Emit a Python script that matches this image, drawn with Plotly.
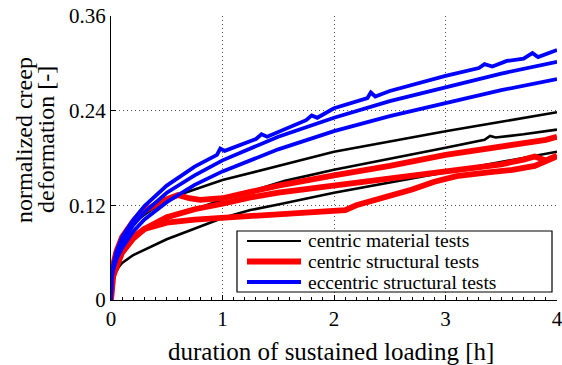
import plotly.graph_objects as go

# ---------------- data ----------------
# centric material tests (black)
black_a_t = [0, 0.005, 0.03, 0.1, 0.2, 0.5, 1.0, 1.25, 1.5, 2.0, 2.5, 3.0, 3.5, 4.0]
black_a_y = [0, 0.03, 0.05, 0.075, 0.098, 0.128, 0.152, 0.161, 0.170, 0.188, 0.201, 0.214, 0.226, 0.238]
black_b_t = [0, 0.005, 0.03, 0.1, 0.25, 0.5, 1.0, 1.25, 1.56, 2.0, 2.44, 3.0, 3.35, 3.4, 3.45, 3.7, 4.0]
black_b_y = [0, 0.025, 0.045, 0.065, 0.085, 0.103, 0.127, 0.138, 0.151, 0.165, 0.177, 0.193, 0.203, 0.208, 0.206, 0.210, 0.216]
black_c_t = [0, 0.005, 0.03, 0.07, 0.1, 0.2, 0.5, 1.0, 1.25, 1.5, 2.0, 2.5, 3.0, 3.5, 4.0]
black_c_y = [0, 0.02, 0.032, 0.042, 0.047, 0.057, 0.077, 0.104, 0.114, 0.121, 0.136, 0.149, 0.162, 0.175, 0.188]

# centric structural tests (red)
red_a_t = [0, 0.005, 0.02, 0.05, 0.1, 0.2, 0.3, 0.45, 0.6, 0.7, 0.8, 1.0, 1.25, 1.5, 2.0, 2.5, 3.0, 3.5, 3.9, 4.0]
red_a_y = [0, 0.035, 0.045, 0.062, 0.08, 0.1, 0.113, 0.125, 0.133, 0.129, 0.127, 0.129, 0.137, 0.145, 0.158, 0.170, 0.184, 0.194, 0.203, 0.207]
red_b_t = [0, 0.005, 0.02, 0.05, 0.1, 0.2, 0.3, 0.5, 0.75, 1.0, 1.25, 1.5, 2.0, 2.5, 3.0, 3.3, 3.5, 3.7, 3.8, 3.9, 4.0]
red_b_y = [0, 0.025, 0.033, 0.045, 0.06, 0.078, 0.09, 0.105, 0.115, 0.122, 0.130, 0.136, 0.145, 0.155, 0.163, 0.168, 0.172, 0.178, 0.182, 0.177, 0.183]
red_c_t = [0, 0.005, 0.02, 0.1, 0.2, 0.3, 0.5, 0.75, 1.0, 1.5, 2.0, 2.1, 2.2, 2.3, 2.5, 2.7, 2.9, 3.1, 3.4, 3.6, 3.8, 3.95, 4.0]
red_c_y = [0, 0.02, 0.03, 0.062, 0.08, 0.09, 0.098, 0.102, 0.104, 0.108, 0.112, 0.114, 0.120, 0.124, 0.132, 0.140, 0.150, 0.157, 0.162, 0.165, 0.170, 0.178, 0.182]

# eccentric structural tests (blue)
blue_a_t = [0, 0.005, 0.02, 0.05, 0.1, 0.2, 0.3, 0.5, 0.75, 0.95, 0.98, 1.02, 1.3, 1.35, 1.4, 1.75, 1.8, 1.85, 2.0, 2.3, 2.33, 2.37, 2.5, 3.0, 3.3, 3.35, 3.42, 3.55, 3.7, 3.78, 3.83, 4.0]
blue_a_y = [0, 0.03, 0.045, 0.062, 0.08, 0.102, 0.119, 0.145, 0.169, 0.184, 0.192, 0.189, 0.204, 0.21, 0.207, 0.228, 0.234, 0.231, 0.243, 0.256, 0.263, 0.258, 0.265, 0.284, 0.294, 0.299, 0.296, 0.303, 0.306, 0.313, 0.308, 0.317]
blue_b_t = [0, 0.005, 0.02, 0.05, 0.1, 0.2, 0.3, 0.5, 0.75, 1.0, 1.5, 2.0, 2.5, 3.0, 3.5, 4.0]
blue_b_y = [0, 0.028, 0.042, 0.058, 0.073, 0.095, 0.111, 0.136, 0.158, 0.177, 0.207, 0.231, 0.252, 0.270, 0.287, 0.302]
blue_c_t = [0, 0.005, 0.02, 0.05, 0.1, 0.2, 0.3, 0.5, 0.75, 1.0, 1.5, 2.0, 2.5, 3.0, 3.5, 4.0]
blue_c_y = [0, 0.025, 0.038, 0.052, 0.066, 0.087, 0.102, 0.124, 0.146, 0.163, 0.191, 0.214, 0.233, 0.250, 0.266, 0.280]

x_ticks = [0, 1, 2, 3, 4]
y_ticks = [0, 0.12, 0.24, 0.36]
y_tick_labels = ["0", "0.12", "0.24", "0.36"]

legend_names = ["centric material tests", "centric structural tests", "eccentric structural tests"]

FONT = "Liberation Serif, Times New Roman, DejaVu Serif, serif"

fig = go.Figure()

groups = [
    (legend_names[0], "black", 2.6, [(black_a_t, black_a_y), (black_b_t, black_b_y), (black_c_t, black_c_y)]),
    (legend_names[1], "#ff0000", 5.8, [(red_a_t, red_a_y), (red_b_t, red_b_y), (red_c_t, red_c_y)]),
    (legend_names[2], "#0000ff", 3.8, [(blue_a_t, blue_a_y), (blue_b_t, blue_b_y), (blue_c_t, blue_c_y)]),
]
for name, color, width, curves in groups:
    for t, y in curves:
        fig.add_trace(go.Scatter(
            x=t, y=y, mode="lines", name=name,
            line=dict(color=color, width=width),
            showlegend=False, legendgroup=name,
        ))

# legend box drawn in paper coordinates (plot area 446 x 284 px)
PW, PH = 446.0, 284.0
def px(xp):
    return (xp - 111) / PW
def py(yp):
    return (300 - yp) / PH

fig.add_shape(type="rect", xref="paper", yref="paper",
              x0=px(237), x1=px(552), y0=py(292), y1=py(231),
              line=dict(color="black", width=1.2), fillcolor="white", layer="above")
row_y = [241, 261.5, 282]
legend_line_widths = [2.2, 5.8, 3.8]
for (name, color, _, _), lw, ry in zip(groups, legend_line_widths, row_y):
    fig.add_shape(type="line", xref="paper", yref="paper",
                  x0=px(247), x1=px(301), y0=py(ry), y1=py(ry),
                  line=dict(color=color, width=lw), layer="above")
    fig.add_annotation(text=name, xref="paper", yref="paper", x=px(306), y=py(ry),
                       xanchor="left", yanchor="middle", showarrow=False,
                       font=dict(family=FONT, size=19.5, color="black"))

fig.update_layout(
    width=562, height=365,
    margin=dict(l=111, r=5, t=16, b=65, autoexpand=False),
    paper_bgcolor="white", plot_bgcolor="white",
    font=dict(family=FONT, size=21, color="black"),
    showlegend=False,
    xaxis=dict(
        range=[0, 4], tickvals=x_ticks, ticks="inside", ticklen=5,
        tickcolor="black", showline=True, linecolor="black", linewidth=1,
        showgrid=True, gridcolor="#555555", griddash="1px,3px", gridwidth=1,
        zeroline=False, mirror=False, automargin=False, ticklabeloverflow="allow",
        tickfont=dict(family=FONT, size=21),
        minor=dict(dtick=0.1, ticks="inside", ticklen=3, tickcolor="black", showgrid=False),
    ),
    yaxis=dict(
        range=[0, 0.36], tickvals=y_ticks, ticktext=y_tick_labels, ticks="inside", ticklen=5,
        tickcolor="black", showline=True, linecolor="black", linewidth=1,
        showgrid=True, gridcolor="#555555", griddash="1px,3px", gridwidth=1,
        zeroline=False, mirror=False, automargin=False, ticklabeloverflow="allow",
        tickfont=dict(family=FONT, size=21),
    ),
)

fig.add_annotation(text="duration of sustained loading [h]", xref="paper", yref="paper",
                   x=px(331), y=py(351), xanchor="center", yanchor="middle", showarrow=False,
                   font=dict(family=FONT, size=25))
fig.add_annotation(text="normalized creep", xref="paper", yref="paper", x=px(24), y=py(140),
                   xanchor="center", yanchor="middle", textangle=-90, showarrow=False,
                   font=dict(family=FONT, size=24))
fig.add_annotation(text="deformation [-]", xref="paper", yref="paper", x=px(46), y=py(140),
                   xanchor="center", yanchor="middle", textangle=-90, showarrow=False,
                   font=dict(family=FONT, size=24))

fig.write_html("out.html")
